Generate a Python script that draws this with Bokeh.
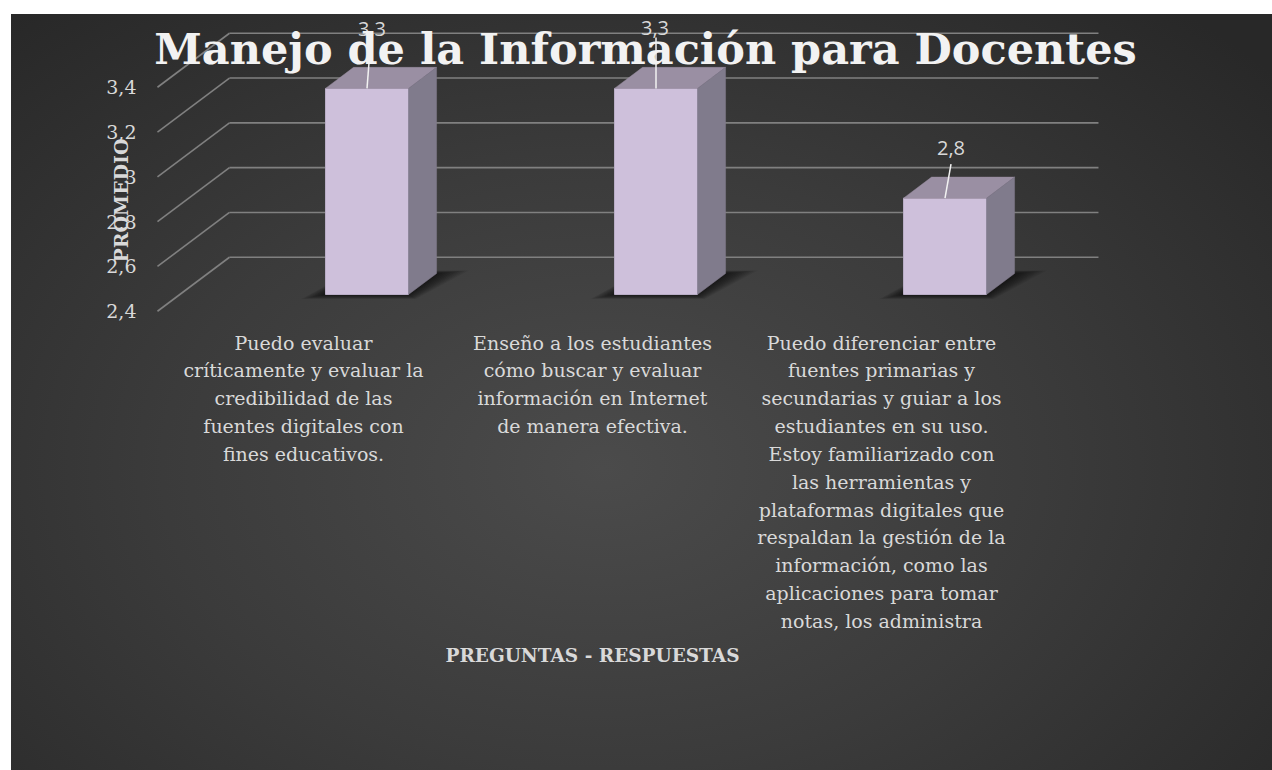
from bokeh.plotting import figure
from bokeh.models import Range1d, LinearAxis, FixedTicker, Label, Spacer, Title
from bokeh.layouts import column, row
from bokeh.embed import file_html
from bokeh.resources import INLINE
from bokeh.core.properties import value

# ---------------- data ----------------
TITLE = "Manejo de la Información para Docentes"
Y_TITLE = "PROMEDIO"
X_TITLE = "PREGUNTAS - RESPUESTAS"
CATEGORIES = [
    "Puedo evaluar\ncríticamente y evaluar la\ncredibilidad de las\nfuentes digitales con\nfines educativos.",
    "Enseño a los estudiantes\ncómo buscar y evaluar\ninformación en Internet\nde manera efectiva.",
    "Puedo diferenciar entre\nfuentes primarias y\nsecundarias y guiar a los\nestudiantes en su uso.\n"
    "Estoy familiarizado con\nlas herramientas y\nplataformas digitales que\nrespaldan la gestión de la\n"
    "información, como las\naplicaciones para tomar\nnotas, los administra",
]
VALUES = [3.32, 3.32, 2.83]
Y_TICKS = [2.4, 2.6, 2.8, 3.0, 3.2, 3.4]
Y_TICK_LABELS = ["2,4", "2,6", "2,8", "3", "3,2", "3,4"]
Y_BASE = 2.4

# ---------------- layout constants (canvas pixels) ----------------
W, H = 1261, 756
FRAME_L, FRAME_B = 129, 372
X0_PX = 355.5          # canvas x of first category (bar front plane)
BASE_PX = 280.0        # canvas y of Y_BASE (bar front plane)
PX_CAT = 289.0
PX_VAL = 224.0

def u(cx):
    return (cx - X0_PX) / PX_CAT

def v(cy):
    return Y_BASE + (BASE_PX - cy) / PX_VAL

DX = 72.0 / PX_CAT     # full floor depth, in x units
DY = 54.0 / PX_VAL     # full floor depth, in value units
BAR_D0, BAR_D1 = 0.31, 0.70
WALL_L, WALL_R = u(168.3), u(1037.3)
HALF_W = 41.5 / PX_CAT

xr = Range1d(u(FRAME_L), u(W))
yr = Range1d(v(FRAME_B), v(0))

p = figure(width=W, height=H, x_range=xr, y_range=yr,
           x_axis_type=None, y_axis_type=None,
           output_backend="svg", toolbar_location=None,
           min_border_left=FRAME_L, min_border_right=0,
           min_border_top=0, min_border_bottom=H - FRAME_B)
p.background_fill_alpha = 0
p.border_fill_alpha = 0
p.outline_line_color = None
p.styles = {"background": "radial-gradient(ellipse 70% 80% at 47% 60%, #4b4b4b 0%, #3b3b3b 50%, #282828 100%)"}

GRID = "#808080"
back_off_x = (1 - BAR_D0) * DX
back_off_y = (1 - BAR_D0) * DY
# side wall lines
p.segment(x0=[WALL_L - BAR_D0 * DX] * len(Y_TICKS),
          y0=[t - BAR_D0 * DY for t in Y_TICKS],
          x1=[WALL_L + back_off_x] * len(Y_TICKS),
          y1=[t + back_off_y for t in Y_TICKS],
          line_color=GRID, line_width=1.6)
# back wall lines
p.segment(x0=[WALL_L + back_off_x] * len(Y_TICKS),
          y0=[t + back_off_y for t in Y_TICKS],
          x1=[WALL_R + back_off_x] * len(Y_TICKS),
          y1=[t + back_off_y for t in Y_TICKS],
          line_color=GRID, line_width=1.6)

xs = list(range(len(VALUES)))
bdx = (BAR_D1 - BAR_D0) * DX
bdy = (BAR_D1 - BAR_D0) * DY

# soft shadows on the floor
for k in range(1, 11):
    exl = 2.4 * k / PX_CAT
    exr = 3.2 * k / PX_CAT
    eyf = 0.45 * k / PX_VAL
    eyb = 0.3 * k / PX_VAL
    sx, sy = [], []
    for x in xs:
        L, R = x - HALF_W, x + HALF_W
        sx.append([L - exl, R + exl * 0.3, R + bdx + exr, L + bdx])
        sy.append([Y_BASE - eyf, Y_BASE - eyf, Y_BASE + bdy + eyb, Y_BASE + bdy + eyb])
    p.patches(sx, sy, fill_color="black", fill_alpha=0.075, line_color=None)

# bars: front faces
p.quad(left=[x - HALF_W for x in xs], right=[x + HALF_W for x in xs],
       bottom=[Y_BASE] * len(xs), top=VALUES,
       fill_color="#cec0db", line_color="#b9adc6", line_width=1)
# top faces
p.patches([[x - HALF_W, x + HALF_W, x + HALF_W + bdx, x - HALF_W + bdx] for x in xs],
          [[val, val, val + bdy, val + bdy] for val in VALUES],
          fill_color="#9a8fa3", line_color="#9a8fa3", line_width=0.5)
# side faces
p.patches([[x + HALF_W, x + HALF_W, x + HALF_W + bdx, x + HALF_W + bdx] for x in xs],
          [[Y_BASE, val, val + bdy, Y_BASE + bdy] for val in VALUES],
          fill_color="#807b8c", line_color="#807b8c", line_width=0.5)

# data labels with leader lines
LBL_DX = [5, -1, 6]
LBL_DY = [59, 60, 50]
LINE_DX = [4, 0, 6]
LINE_DY = [51, 51, 34]
p.segment(x0=xs, y0=VALUES,
          x1=[x + d / PX_CAT for x, d in zip(xs, LINE_DX)],
          y1=[val + d / PX_VAL for val, d in zip(VALUES, LINE_DY)],
          line_color="#f2f2f2", line_width=1.5)
p.text(x=[x + d / PX_CAT for x, d in zip(xs, LBL_DX)],
       y=[val + d / PX_VAL for val, d in zip(VALUES, LBL_DY)],
       text=[f"{val:.1f}".replace(".", ",") for val in VALUES],
       text_font=value("Open Sans"), text_font_size="20px",
       text_color="#d9d9d9", text_align="center", text_baseline="middle")

# y axis (front edge of the side wall)
p.extra_y_ranges = {"front": Range1d(yr.start + BAR_D0 * DY, yr.end + BAR_D0 * DY)}
yaxis = LinearAxis(y_range_name="front", ticker=FixedTicker(ticks=Y_TICKS),
                   major_label_overrides=dict(zip(Y_TICKS, Y_TICK_LABELS)),
                   axis_line_color=None, major_tick_line_color=None,
                   minor_tick_line_color=None, major_tick_out=0, major_tick_in=0,
                   major_label_standoff=4,
                   major_label_text_font="DejaVu Serif",
                   major_label_text_font_size="19px",
                   major_label_text_color="#d9d9d9",
                   axis_label=Y_TITLE, axis_label_standoff=-29,
                   axis_label_text_font="DejaVu Serif",
                   axis_label_text_font_style="bold",
                   axis_label_text_font_size="19px",
                   axis_label_text_color="#d9d9d9")
p.add_layout(yaxis, "left")

# x axis (category labels)
CAT_SHIFT = 63.5 / PX_CAT
p.extra_x_ranges = {"cats": Range1d(xr.start + CAT_SHIFT, xr.end + CAT_SHIFT)}
xaxis = LinearAxis(x_range_name="cats", ticker=FixedTicker(ticks=xs),
                   major_label_overrides={i: c for i, c in zip(xs, CATEGORIES)},
                   axis_line_color=None, major_tick_line_color=None,
                   minor_tick_line_color=None, major_tick_out=0, major_tick_in=0,
                   major_label_standoff=-55,
                   major_label_text_font="DejaVu Serif",
                   major_label_text_font_size="19px",
                   major_label_text_line_height=1.266,
                   major_label_text_align="center",
                   major_label_text_color="#d9d9d9")
p.add_layout(xaxis, "below")

p.add_layout(Title(text=X_TITLE, align="left", offset=305, standoff=14,
                   text_font="DejaVu Serif", text_font_style="bold",
                   text_font_size="18.5px", text_color="#d9d9d9"), "below")

# chart title
p.add_layout(Label(x=u(634), y=v(34), text=TITLE, text_align="center",
                   text_baseline="middle", text_font="DejaVu Serif",
                   text_font_style="bold", text_font_size="43px",
                   text_color="#f2f2f2"))

layout = column(Spacer(height=14), row(Spacer(width=11), p))
open("out.html", "w").write(file_html(layout, INLINE))
